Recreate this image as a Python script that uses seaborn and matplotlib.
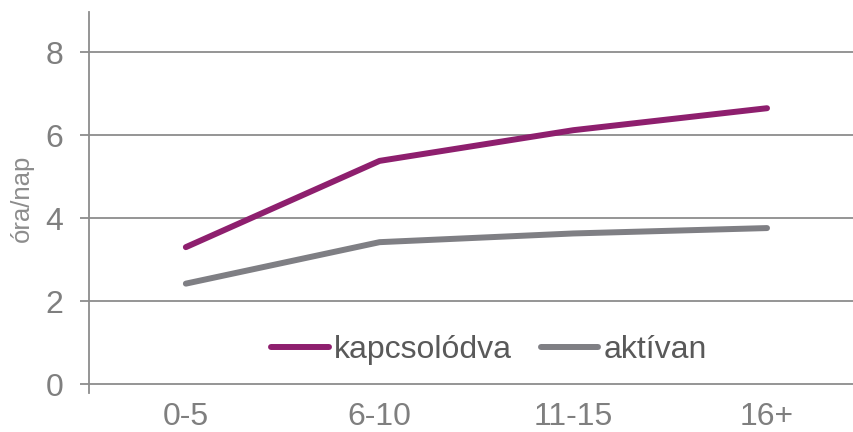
import pandas as pd
import seaborn as sns
from matplotlib import pyplot as plt

# data
categories = ["0-5", "6-10", "11-15", "16+"]
kapcsolodva = [3.30, 5.38, 6.12, 6.65]
aktivan = [2.42, 3.42, 3.63, 3.76]
series_names = ["kapcsolódva", "aktívan"]
series_colors = ["#8e1f6e", "#7f7f84"]

sns.set_style("white")
plt.rcParams["font.family"] = ["Liberation Sans", "DejaVu Sans"]

# long form table for seaborn
df = pd.DataFrame(
    {
        "group": categories * 2,
        "x": list(range(len(categories))) * 2,
        "hours": kapcsolodva + aktivan,
        "series": [series_names[0]] * len(categories)
        + [series_names[1]] * len(categories),
    }
)

fig = plt.figure(figsize=(8.54, 4.32), dpi=100)
ax = fig.add_axes([89 / 854, 48 / 432, 1 - 89 / 854, 372 / 432])

sns.lineplot(
    data=df,
    x="x",
    y="hours",
    hue="series",
    palette=series_colors,
    linewidth=4.3,
    solid_capstyle="round",
    ax=ax,
    legend=False,
)

grid_color = "#8c8c8c"
ax.set_xlim(-0.5, 3.449)
ax.set_ylim(0, 8.97)
ax.set_yticks([0, 2, 4, 6, 8])
for y in [2, 4, 6, 8]:
    ax.axhline(y, color=grid_color, linewidth=1.3, zorder=0)

# category labels in the middle, tick marks between categories
ax.set_xticks(range(len(categories)))
ax.set_xticklabels(categories)
ax.set_xticks([0.5, 1.5, 2.5], minor=True)
ax.tick_params(axis="x", which="major", length=0, pad=13, labelsize=23, labelcolor="#7f7f7f")
ax.tick_params(axis="x", which="minor", length=6.5, width=1.3, color=grid_color, direction="out")
ax.tick_params(axis="y", length=6.5, width=1.3, color=grid_color, pad=12, labelsize=23, labelcolor="#7f7f7f", left=True)

for side in ["top", "right"]:
    ax.spines[side].set_visible(False)
for side in ["left", "bottom"]:
    ax.spines[side].set_color(grid_color)
    ax.spines[side].set_linewidth(1.3)
ax.spines["left"].set_bounds(-0.22, 8.97)

ax.set_xlabel("")
ax.set_ylabel("óra/nap", fontsize=18.5, color="#8c8c8c")
ax.yaxis.set_label_coords(-0.072, 0.5)

handles = [
    plt.Line2D([], [], color=c, linewidth=4.3, solid_capstyle="round")
    for c in series_colors
]
fig.legend(
    handles,
    series_names,
    loc="center",
    bbox_to_anchor=(489 / 854, 82 / 432),
    ncol=2,
    frameon=False,
    fontsize=23,
    labelcolor="#595959",
    handlelength=1.8,
    handletextpad=0.16,
    columnspacing=0.9,
)

fig.savefig("out.png", dpi=100)
